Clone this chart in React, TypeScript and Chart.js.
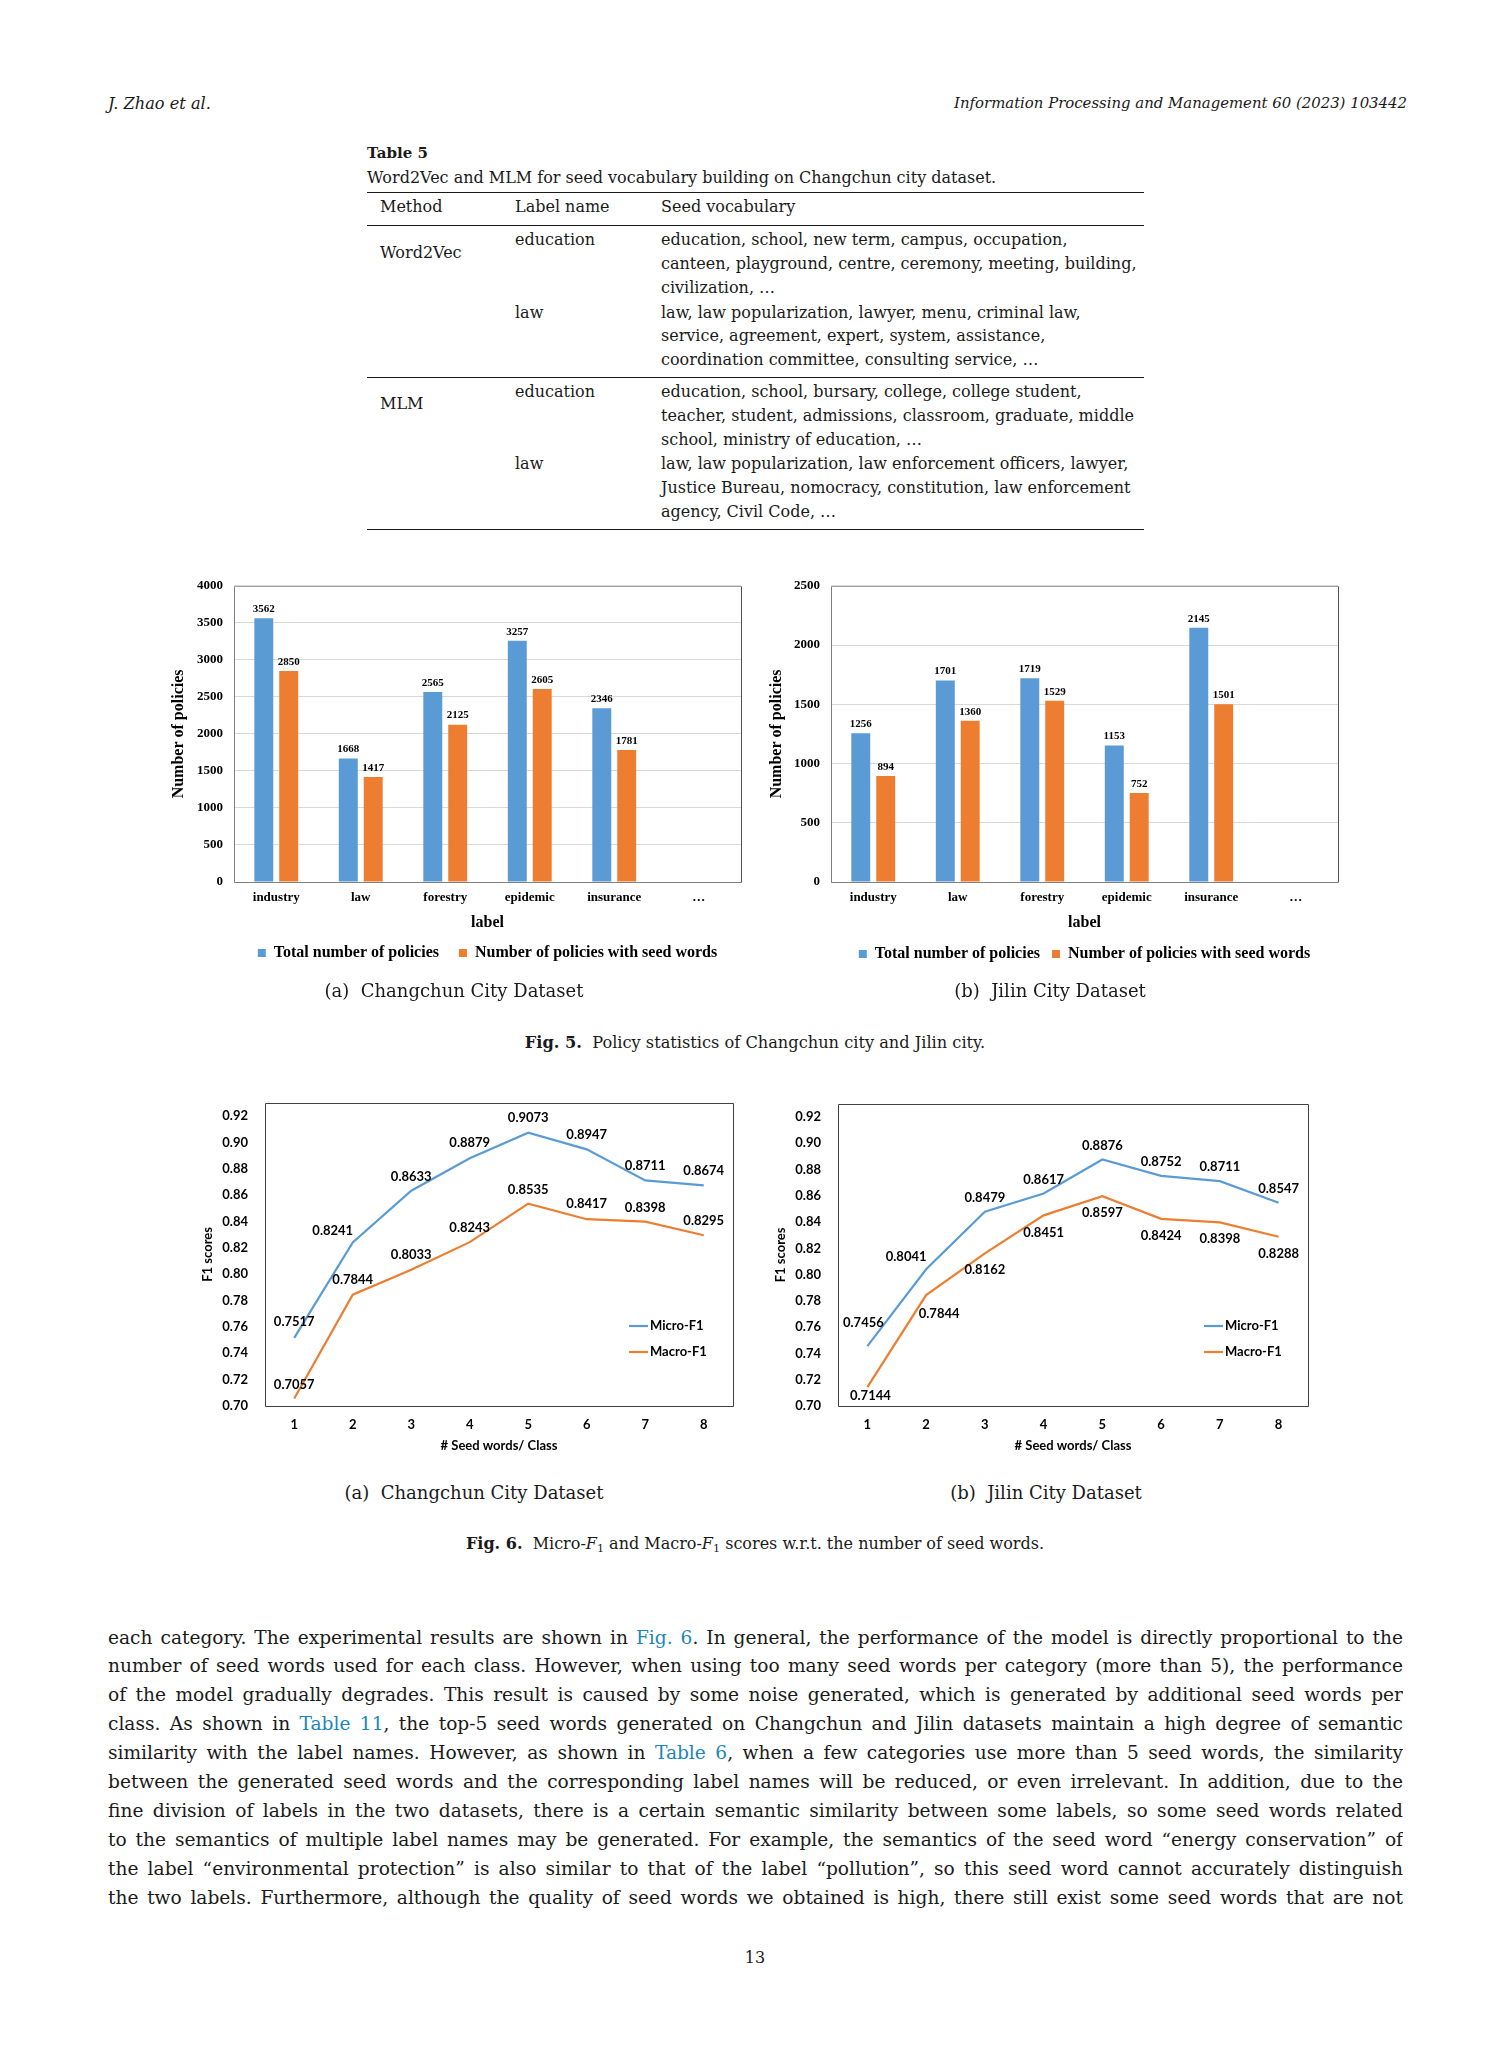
import React, { useEffect, useRef } from "react";
import { Chart, registerables } from "chart.js";

Chart.register(...registerables);

// ---------------- data ----------------
const barCategories = ["industry", "law", "forestry", "epidemic", "insurance", "…"];
const barSeriesNames = ["Total number of policies", "Number of policies with seed words"];
const changchunTotal = [3562, 1668, 2565, 3257, 2346, null];
const changchunSeed = [2850, 1417, 2125, 2605, 1781, null];
const jilinTotal = [1256, 1701, 1719, 1153, 2145, null];
const jilinSeed = [894, 1360, 1529, 752, 1501, null];
const changchunYTicks = { min: 0, max: 4000, step: 500 };
const jilinYTicks = { min: 0, max: 2500, step: 500 };

const seedCounts = ["1", "2", "3", "4", "5", "6", "7", "8"];
const lineSeriesNames = ["Micro-F1", "Macro-F1"];
const changchunMicro = [0.7517, 0.8241, 0.8633, 0.8879, 0.9073, 0.8947, 0.8711, 0.8674];
const changchunMacro = [0.7057, 0.7844, 0.8033, 0.8243, 0.8535, 0.8417, 0.8398, 0.8295];
const jilinMicro = [0.7456, 0.8041, 0.8479, 0.8617, 0.8876, 0.8752, 0.8711, 0.8547];
const jilinMacro = [0.7144, 0.7844, 0.8162, 0.8451, 0.8597, 0.8424, 0.8398, 0.8288];
const f1Ticks = { min: 0.7, max: 0.93, step: 0.02 };

// ---------------- styles ----------------
const BLUE = "#5B9BD5";
const ORANGE = "#ED7D31";
const FIG_SERIF = "'Liberation Serif', 'Times New Roman', serif";
const FIG_SANS = "Lato, 'Open Sans', sans-serif";
const PAGE_SERIF = "'DejaVu Serif', serif";
const INK = "#1a1a1a";
const LINK = "#1b86b8";

// label offsets (dx, dy) from each point, per dataset
const changchunLabelOffsets = [
  [[0, -16], [-20, -12], [0, -14], [0, -15], [0, -15], [0, -15], [0, -15], [0, -15]],
  [[0, -14], [0, -15], [0, -15], [0, -14], [0, -14], [0, -15], [0, -14], [0, -14]],
];
const jilinLabelOffsets = [
  [[-4, -23], [-20, -12], [0, -14], [0, -14], [0, -14], [0, -14], [0, -14], [0, -14]],
  [[3, 9], [13, 19], [0, 16], [0, 17], [0, 17], [0, 17], [0, 16], [0, 17]],
];

// ---------------- plugins ----------------
function valueLabelsPlugin(cfg: { font: string; color: string; decimals: number; offsets?: number[][][]; offset?: number[] }) {
  return {
    id: "valueLabels",
    afterDatasetsDraw(chart: any) {
      const ctx = chart.ctx;
      ctx.save();
      ctx.font = cfg.font;
      ctx.fillStyle = cfg.color;
      ctx.textAlign = "center";
      ctx.textBaseline = "middle";
      chart.data.datasets.forEach((ds: any, di: number) => {
        const meta = chart.getDatasetMeta(di);
        meta.data.forEach((el: any, i: number) => {
          const v = ds.data[i];
          if (v === null || v === undefined) return;
          const off = (cfg.offsets && cfg.offsets[di] && cfg.offsets[di][i]) || cfg.offset || [0, -9];
          ctx.fillText(Number(v).toFixed(cfg.decimals), el.x + off[0], el.y + off[1]);
        });
      });
      ctx.restore();
    },
  };
}

function framePlugin(cfg: { left: string; bottom: string; top: string; right: string; width: number }) {
  return {
    id: "plotFrame",
    afterDatasetsDraw(chart: any) {
      const { ctx, chartArea: a } = chart;
      ctx.save();
      ctx.lineWidth = cfg.width;
      const L = Math.round(a.left) + 0.5;
      const R = Math.round(a.right) + 0.5;
      const T = Math.round(a.top) + 0.5;
      const B = Math.round(a.bottom) + 0.5;
      const seg = (c: string, x1: number, y1: number, x2: number, y2: number) => {
        ctx.strokeStyle = c;
        ctx.beginPath();
        ctx.moveTo(x1, y1);
        ctx.lineTo(x2, y2);
        ctx.stroke();
      };
      seg(cfg.top, L, T, R, T);
      seg(cfg.right, R, T, R, B);
      seg(cfg.bottom, L, B, R, B);
      seg(cfg.left, L, T, L, B);
      ctx.restore();
    },
  };
}

// moves the (bottom) legend vertically after layout, so its item spacing can differ from its distance to the axis
function legendShiftPlugin(dy: number) {
  return {
    id: "legendShift",
    afterLayout(chart: any) {
      if (chart.legend && dy) {
        chart.legend.top += dy;
        chart.legend.bottom += dy;
      }
    },
  };
}

function insideLegendPlugin(cfg: { font: string; color: string; fromRight: number; fromBottom: number; rowGap: number; lineLen: number }) {
  return {
    id: "insideLegend",
    afterDraw(chart: any) {
      const { ctx, chartArea: a } = chart;
      ctx.save();
      ctx.font = cfg.font;
      ctx.textBaseline = "middle";
      ctx.textAlign = "left";
      chart.data.datasets.forEach((ds: any, i: number) => {
        const x = a.right - cfg.fromRight;
        const y = a.bottom - cfg.fromBottom + i * cfg.rowGap;
        ctx.strokeStyle = ds.borderColor;
        ctx.lineWidth = ds.borderWidth;
        ctx.beginPath();
        ctx.moveTo(x, y);
        ctx.lineTo(x + cfg.lineLen, y);
        ctx.stroke();
        ctx.fillStyle = cfg.color;
        ctx.fillText(ds.label, x + cfg.lineLen + 2, y);
      });
      ctx.restore();
    },
  };
}

// ---------------- chart configs ----------------
function barConfig(
  total: (number | null)[],
  seed: (number | null)[],
  yr: { min: number; max: number; step: number },
  g: { yW: number; xH: number; titleBottom: number; legendPad: number; legendShift: number }
) {
  return {
    type: "bar",
    data: {
      labels: barCategories,
      datasets: [
        { label: barSeriesNames[0], data: total, backgroundColor: BLUE, borderWidth: 0, categoryPercentage: 0.59, barPercentage: 0.76 },
        { label: barSeriesNames[1], data: seed, backgroundColor: ORANGE, borderWidth: 0, categoryPercentage: 0.59, barPercentage: 0.76 },
      ],
    },
    options: {
      responsive: false,
      animation: false,
      devicePixelRatio: 1,
      layout: { padding: { top: 0, right: 10, bottom: 0, left: 0 } },
      plugins: {
        legend: {
          position: "bottom",
          fullSize: false,
          labels: { boxWidth: 8, boxHeight: 8, padding: g.legendPad, color: "#000", font: { family: FIG_SERIF, weight: "bold", size: 16 } },
        },
        tooltip: { enabled: false },
      },
      scales: {
        x: {
          grid: { display: false, drawTicks: false },
          border: { display: false },
          ticks: { padding: 8, color: "#000", font: { family: FIG_SERIF, weight: "bold", size: 13 } },
          title: { display: true, text: "label", color: "#000", padding: { top: 0, bottom: g.titleBottom }, font: { family: FIG_SERIF, weight: "bold", size: 16 } },
          afterFit: (s: any) => { s.height = g.xH; },
        },
        y: {
          min: yr.min,
          max: yr.max,
          ticks: { stepSize: yr.step, padding: 11, color: "#000", font: { family: FIG_SERIF, weight: "bold", size: 13 }, callback: (v: any) => String(v) },
          grid: { color: "#d9d9d9", drawTicks: false },
          border: { display: false },
          title: { display: true, text: "Number of policies", color: "#000", padding: { top: 4, bottom: 0 }, font: { family: FIG_SERIF, weight: "bold", size: 16 } },
          afterFit: (s: any) => { s.width = g.yW; },
        },
      },
    },
    plugins: [
      framePlugin({ left: "#808080", bottom: "#808080", top: "#a0a0a0", right: "#505050", width: 1 }),
      valueLabelsPlugin({ font: `bold 11px ${FIG_SERIF}`, color: "#000", decimals: 0, offset: [0, -9] }),
      legendShiftPlugin(g.legendShift),
    ],
  };
}

function lineConfig(micro: number[], macro: number[], offsets: number[][][], g: { yW: number; yPad: number }) {
  return {
    type: "line",
    data: {
      labels: seedCounts,
      datasets: [
        { label: lineSeriesNames[0], data: micro, borderColor: BLUE, backgroundColor: BLUE, borderWidth: 2.2, pointRadius: 0, tension: 0, fill: false },
        { label: lineSeriesNames[1], data: macro, borderColor: ORANGE, backgroundColor: ORANGE, borderWidth: 2.2, pointRadius: 0, tension: 0, fill: false },
      ],
    },
    options: {
      responsive: false,
      animation: false,
      devicePixelRatio: 1,
      layout: { padding: { top: 0, right: 10, bottom: 4, left: 0 } },
      plugins: { legend: { display: false }, tooltip: { enabled: false } },
      scales: {
        x: {
          type: "category",
          offset: true,
          grid: { display: false, drawTicks: false },
          border: { display: false },
          ticks: { padding: 11, color: "#000", font: { family: FIG_SANS, weight: "bold", size: 13 } },
          title: { display: true, text: "# Seed words/ Class", color: "#000", padding: { top: 0, bottom: 4 }, font: { family: FIG_SANS, weight: "bold", size: 13 } },
          afterFit: (s: any) => { s.height = 52; },
        },
        y: {
          min: f1Ticks.min,
          max: f1Ticks.max,
          ticks: { stepSize: f1Ticks.step, includeBounds: false, padding: g.yPad, color: "#000", font: { family: FIG_SANS, weight: "bold", size: 13 }, callback: (v: any) => Number(v).toFixed(2) },
          grid: { display: false, drawTicks: false },
          border: { display: false },
          title: { display: true, text: "F1 scores", color: "#000", padding: { top: 4, bottom: 0 }, font: { family: FIG_SANS, weight: "bold", size: 13 } },
          afterFit: (s: any) => { s.width = g.yW; },
        },
      },
    },
    plugins: [
      framePlugin({ left: "#404040", bottom: "#404040", top: "#404040", right: "#404040", width: 1 }),
      valueLabelsPlugin({ font: `bold 13px ${FIG_SANS}`, color: "#000", decimals: 4, offsets }),
      insideLegendPlugin({ font: `bold 13px ${FIG_SANS}`, color: "#000", fromRight: 104, fromBottom: 80, rowGap: 26, lineLen: 19 }),
    ],
  };
}

function ChartBox(props: { left: number; top: number; width: number; height: number; make: () => any }) {
  const ref = useRef<HTMLCanvasElement>(null);
  useEffect(() => {
    const chart = new Chart(ref.current as HTMLCanvasElement, props.make());
    return () => chart.destroy();
  }, []);
  return (
    <canvas
      ref={ref}
      width={props.width}
      height={props.height}
      style={{ position: "absolute", left: props.left, top: props.top, width: props.width, height: props.height }}
    />
  );
}

// ---------------- page text ----------------
function T(p: { x: number; y: number; size: number; align?: "left" | "right" | "center"; bold?: boolean; italic?: boolean; children: React.ReactNode }) {
  const lh = Math.round(p.size * 1.4);
  const s: React.CSSProperties = {
    position: "absolute",
    top: p.y - lh / 2,
    fontSize: p.size,
    lineHeight: lh + "px",
    whiteSpace: "nowrap",
    fontWeight: p.bold ? "bold" : "normal",
    fontStyle: p.italic ? "italic" : "normal",
  };
  if (!p.align || p.align === "left") s.left = p.x;
  else if (p.align === "right") s.right = 1512 - p.x;
  else { s.left = p.x; s.transform = "translateX(-50%)"; }
  return <div style={s}>{p.children}</div>;
}

function Rule(p: { y: number }) {
  return <div style={{ position: "absolute", left: 367, width: 777, top: p.y, height: 1, background: INK }} />;
}

const L = (t: string) => <span style={{ color: LINK }}>{t}</span>;

const bodyLines: React.ReactNode[] = [
  <>each category. The experimental results are shown in {L("Fig. 6")}. In general, the performance of the model is directly proportional to the</>,
  <>number of seed words used for each class. However, when using too many seed words per category (more than 5), the performance</>,
  <>of the model gradually degrades. This result is caused by some noise generated, which is generated by additional seed words per</>,
  <>class. As shown in {L("Table 11")}, the top-5 seed words generated on Changchun and Jilin datasets maintain a high degree of semantic</>,
  <>similarity with the label names. However, as shown in {L("Table 6")}, when a few categories use more than 5 seed words, the similarity</>,
  <>between the generated seed words and the corresponding label names will be reduced, or even irrelevant. In addition, due to the</>,
  <>fine division of labels in the two datasets, there is a certain semantic similarity between some labels, so some seed words related</>,
  <>to the semantics of multiple label names may be generated. For example, the semantics of the seed word “energy conservation” of</>,
  <>the label “environmental protection” is also similar to that of the label “pollution”, so this seed word cannot accurately distinguish</>,
  <>the two labels. Furthermore, although the quality of seed words we obtained is high, there still exist some seed words that are not</>,
];

const w2vEdu = ["education, school, new term, campus, occupation,", "canteen, playground, centre, ceremony, meeting, building,", "civilization, …"];
const w2vLaw = ["law, law popularization, lawyer, menu, criminal law,", "service, agreement, expert, system, assistance,", "coordination committee, consulting service, …"];
const mlmEdu = ["education, school, bursary, college, college student,", "teacher, student, admissions, classroom, graduate, middle", "school, ministry of education, …"];
const mlmLaw = ["law, law popularization, law enforcement officers, lawyer,", "Justice Bureau, nomocracy, constitution, law enforcement", "agency, Civil Code, …"];

function VocabLines(p: { lines: string[]; y: number }) {
  return (
    <>
      {p.lines.map((t, i) => (
        <T key={i} x={661} y={p.y + i * 23.8} size={16}>{t}</T>
      ))}
    </>
  );
}

const sub1 = <span style={{ fontSize: "0.7em", verticalAlign: "-0.3em" }}>1</span>;

export default function App() {
  return (
    <div
      style={{
        position: "absolute",
        left: 0,
        top: 0,
        width: 1512,
        height: 2063,
        overflow: "hidden",
        background: "#fff",
        color: INK,
        fontFamily: PAGE_SERIF,
      }}
    >
      {/* running header */}
      <T x={108} y={103} size={16.2} italic>J. Zhao et al.</T>
      <T x={1407} y={103} size={14.9} italic align="right">Information Processing and Management 60 (2023) 103442</T>

      {/* Table 5 */}
      <T x={367} y={153} size={15} bold>Table 5</T>
      <T x={367} y={177.5} size={16}>Word2Vec and MLM for seed vocabulary building on Changchun city dataset.</T>
      <Rule y={192} />
      <T x={380} y={207} size={16}>Method</T>
      <T x={515} y={207} size={16}>Label name</T>
      <T x={661} y={207} size={16}>Seed vocabulary</T>
      <Rule y={225} />
      <T x={380} y={252.5} size={16}>Word2Vec</T>
      <T x={515} y={240} size={16}>education</T>
      <VocabLines lines={w2vEdu} y={240} />
      <T x={515} y={312.5} size={16}>law</T>
      <VocabLines lines={w2vLaw} y={312.5} />
      <Rule y={377} />
      <T x={380} y={404} size={16}>MLM</T>
      <T x={515} y={392.3} size={16}>education</T>
      <VocabLines lines={mlmEdu} y={392.3} />
      <T x={515} y={464.3} size={16}>law</T>
      <VocabLines lines={mlmLaw} y={464.3} />
      <Rule y={529} />

      {/* Fig. 5 */}
      <ChartBox left={165} top={567} width={586} height={414}
        make={() => barConfig(changchunTotal, changchunSeed, changchunYTicks, { yW: 69, xH: 53, titleBottom: 3, legendPad: 20, legendShift: -10 })} />
      <ChartBox left={763} top={567} width={585} height={405}
        make={() => barConfig(jilinTotal, jilinSeed, jilinYTicks, { yW: 68, xH: 52, titleBottom: 2, legendPad: 12, legendShift: 0 })} />
      <T x={454} y={990} size={18} align="center">(a)&nbsp;&nbsp;Changchun City Dataset</T>
      <T x={1050} y={990} size={18} align="center">(b)&nbsp;&nbsp;Jilin City Dataset</T>
      <T x={755} y={1042} size={16.2} align="center"><b>Fig. 5.</b>&nbsp;&nbsp;Policy statistics of Changchun city and Jilin city.</T>

      {/* Fig. 6 */}
      <ChartBox left={196} top={1078} width={547} height={384}
        make={() => lineConfig(changchunMicro, changchunMacro, changchunLabelOffsets, { yW: 69, yPad: 17 })} />
      <ChartBox left={769} top={1079} width={549} height={383}
        make={() => lineConfig(jilinMicro, jilinMacro, jilinLabelOffsets, { yW: 69, yPad: 17 })} />
      <T x={474} y={1492} size={18} align="center">(a)&nbsp;&nbsp;Changchun City Dataset</T>
      <T x={1046} y={1492} size={18} align="center">(b)&nbsp;&nbsp;Jilin City Dataset</T>
      <T x={755} y={1544} size={16} align="center">
        <b>Fig. 6.</b>&nbsp;&nbsp;Micro-<i>F</i>{sub1} and Macro-<i>F</i>{sub1} scores w.r.t. the number of seed words.
      </T>

      {/* body text */}
      {bodyLines.map((ln, i) => {
        const lh = 27;
        return (
          <div
            key={i}
            style={{
              position: "absolute",
              left: 108,
              width: 1295,
              top: 1637 + i * 28.95 - lh / 2,
              height: lh,
              lineHeight: lh + "px",
              fontSize: 18.6,
              textAlign: "justify",
              textAlignLast: "justify",
              overflow: "hidden",
            }}
          >
            {ln}
          </div>
        );
      })}

      <T x={755} y={1958} size={16} align="center">13</T>
    </div>
  );
}
